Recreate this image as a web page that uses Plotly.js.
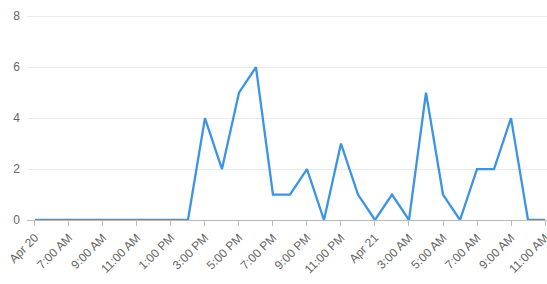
<!DOCTYPE html>
<html>
<head>
<meta charset="utf-8">
<script src="https://cdn.plot.ly/plotly-3.0.1.min.js"></script>
<style>html,body{margin:0;padding:0;background:#fff}#chart{width:547px;height:284px}</style>
</head>
<body>
<div id="chart"></div>
<script>
const times = [
  "2024-04-20 05:00","2024-04-20 06:00","2024-04-20 07:00","2024-04-20 08:00","2024-04-20 09:00",
  "2024-04-20 10:00","2024-04-20 11:00","2024-04-20 12:00","2024-04-20 13:00","2024-04-20 14:00",
  "2024-04-20 15:00","2024-04-20 16:00","2024-04-20 17:00","2024-04-20 18:00","2024-04-20 19:00",
  "2024-04-20 20:00","2024-04-20 21:00","2024-04-20 22:00","2024-04-20 23:00","2024-04-21 00:00",
  "2024-04-21 01:00","2024-04-21 02:00","2024-04-21 03:00","2024-04-21 04:00","2024-04-21 05:00",
  "2024-04-21 06:00","2024-04-21 07:00","2024-04-21 08:00","2024-04-21 09:00","2024-04-21 10:00",
  "2024-04-21 11:00"
];
const values = [0,0,0,0,0,0,0,0,0,0,4,2,5,6,1,1,2,0,3,1,0,1,0,5,1,0,2,2,4,0,0];
const tickVals = [
  "2024-04-20 05:00","2024-04-20 07:00","2024-04-20 09:00","2024-04-20 11:00","2024-04-20 13:00",
  "2024-04-20 15:00","2024-04-20 17:00","2024-04-20 19:00","2024-04-20 21:00","2024-04-20 23:00",
  "2024-04-21 01:00","2024-04-21 03:00","2024-04-21 05:00","2024-04-21 07:00","2024-04-21 09:00",
  "2024-04-21 11:00"
];
const tickText = ["Apr 20","7:00 AM","9:00 AM","11:00 AM","1:00 PM","3:00 PM","5:00 PM","7:00 PM",
  "9:00 PM","11:00 PM","Apr 21","3:00 AM","5:00 AM","7:00 AM","9:00 AM","11:00 AM"];
const yTicks = [0,2,4,6,8];

Plotly.newPlot('chart', [{
  x: times, y: values, type: 'scatter', mode: 'lines',
  line: {color: '#3b94e4', width: 2.3}, hoverinfo: 'skip', cliponaxis: false
}], {
  width: 547, height: 284,
  margin: {l: 27, r: 0, t: 15, b: 64},
  paper_bgcolor: '#fff', plot_bgcolor: '#fff',
  showlegend: false,
  font: {family: 'Liberation Sans, Arial, sans-serif', size: 12, color: '#666'},
  xaxis: {
    type: 'date', range: ["2024-04-20 04:32", "2024-04-21 11:07"],
    tickmode: 'array', tickvals: tickVals, ticktext: tickText,
    tickangle: -45, tickfont: {size: 12, color: '#666'},
    ticklabeloverflow: 'allow',
    showgrid: false, zeroline: false,
    showline: true, linecolor: '#bbb', linewidth: 1,
    ticks: 'outside', ticklen: 5, tickcolor: '#bbb'
  },
  yaxis: {
    range: [0, 8.05], tickmode: 'array', tickvals: yTicks,
    tickfont: {size: 12, color: '#666'},
    showgrid: true, gridcolor: '#ebebeb', zeroline: false,
    showline: false, ticks: '', ticklabelstandoff: 6
  }
}, {staticPlot: true});
</script>
</body>
</html>
